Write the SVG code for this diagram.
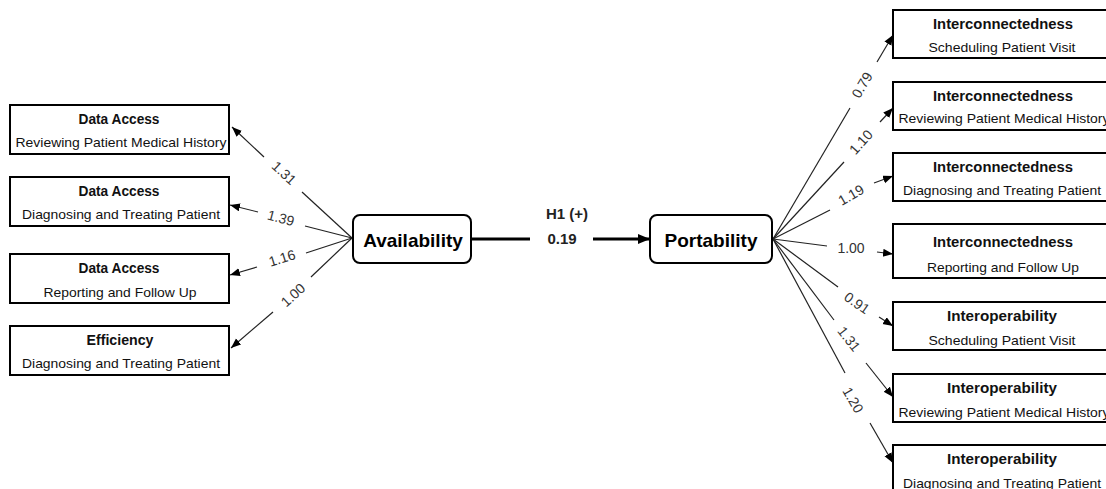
<svg xmlns="http://www.w3.org/2000/svg" width="1106" height="489" viewBox="0 0 1106 489">
<defs>
<marker id="ah" markerUnits="userSpaceOnUse" markerWidth="11" markerHeight="9" refX="10" refY="4" orient="auto"><path d="M0,0 L10,4 L0,8 z" fill="#000"/></marker>
<marker id="ahb" markerUnits="userSpaceOnUse" markerWidth="13" markerHeight="11" refX="12" refY="5" orient="auto"><path d="M0,0 L12,5 L0,10 z" fill="#000"/></marker>
<style>
.box{fill:#fff;stroke:#000;stroke-width:2}
.rbox{fill:#fff;stroke:#000;stroke-width:2}
.t{font-family:"Liberation Sans",Arial,sans-serif;font-weight:bold;font-size:14.5px;fill:#111;text-anchor:middle}
.s{font-family:"Liberation Sans",Arial,sans-serif;font-size:13.5px;fill:#111;text-anchor:middle}
.big{font-family:"Liberation Sans",Arial,sans-serif;font-weight:bold;font-size:19px;fill:#000;text-anchor:middle}
.hl{font-family:"Liberation Sans",Arial,sans-serif;font-weight:bold;font-size:15px;fill:#222;text-anchor:middle}
.n{font-family:"Liberation Sans",Arial,sans-serif;font-size:14px;fill:#333;text-anchor:middle}
.ln{stroke:#222;stroke-width:1.2;fill:none}
.la{stroke:#222;stroke-width:1.2;fill:none;marker-end:url(#ah)}
</style>
</defs>
<rect width="1106" height="489" fill="#fff"/>

<g id="connectors">
  <line class="ln" x1="352" y1="238" x2="302" y2="192"/>
  <line class="la" x1="264" y1="157" x2="232" y2="127"/>
  <line class="ln" x1="352" y1="238" x2="305" y2="226"/>
  <line class="la" x1="258" y1="212" x2="230" y2="205"/>
  <line class="ln" x1="352" y1="238" x2="306" y2="253"/>
  <line class="la" x1="257" y1="267" x2="230" y2="275"/>
  <line class="ln" x1="352" y1="238" x2="311" y2="277"/>
  <line class="la" x1="273" y1="312" x2="231" y2="348"/>
  <line x1="471" y1="239" x2="530" y2="239" stroke="#000" stroke-width="3"/>
  <line x1="593" y1="239" x2="650" y2="239" stroke="#000" stroke-width="3" marker-end="url(#ahb)"/>
  <line class="ln" x1="773" y1="239" x2="850" y2="108"/>
  <line class="la" x1="877" y1="62" x2="893" y2="35"/>
  <line class="ln" x1="773" y1="239" x2="844" y2="162"/>
  <line class="la" x1="880" y1="122" x2="893" y2="108"/>
  <line class="ln" x1="773" y1="239" x2="830" y2="210"/>
  <line class="la" x1="874" y1="183" x2="893" y2="176"/>
  <line class="ln" x1="773" y1="239" x2="827" y2="246"/>
  <line class="la" x1="877" y1="252" x2="893" y2="254"/>
  <line class="ln" x1="773" y1="239" x2="838" y2="287"/>
  <line class="la" x1="879" y1="317" x2="893" y2="326"/>
  <line class="ln" x1="773" y1="239" x2="834" y2="320"/>
  <line class="la" x1="866" y1="363" x2="893" y2="397"/>
  <line class="ln" x1="773" y1="239" x2="845" y2="373"/>
  <line class="la" x1="870" y1="423" x2="893" y2="463"/>
  <text class="n" transform="translate(284,173) rotate(43)" dy="0.35em">1.31</text>
  <text class="n" transform="translate(281,218) rotate(15)" dy="0.35em">1.39</text>
  <text class="n" transform="translate(282,258) rotate(-17)" dy="0.35em">1.16</text>
  <text class="n" transform="translate(293,295) rotate(-42)" dy="0.35em">1.00</text>
  <text class="hl" x="567" y="219">H1 (+)</text>
  <text class="hl" x="562" y="244" font-size="16">0.19</text>
  <text class="n" transform="translate(862,85) rotate(-60)" dy="0.35em">0.79</text>
  <text class="n" transform="translate(861,142) rotate(-48)" dy="0.35em">1.10</text>
  <text class="n" transform="translate(851,195) rotate(-30)" dy="0.35em">1.19</text>
  <text class="n" transform="translate(851,248)" dy="0.35em">1.00</text>
  <text class="n" transform="translate(857,303) rotate(35)" dy="0.35em">0.91</text>
  <text class="n" transform="translate(849,339) rotate(52)" dy="0.35em">1.31</text>
  <text class="n" transform="translate(853,400) rotate(60)" dy="0.35em">1.20</text>
</g>

<g id="availability">
  <rect class="rbox" x="353" y="215" width="118" height="48" rx="7"/>
  <text class="big" x="413" y="247">Availability</text>
</g>
<g id="portability">
  <rect class="rbox" x="650" y="215" width="122" height="48" rx="7"/>
  <text class="big" x="711" y="247">Portability</text>
</g>

<g id="da-reviewing">
  <rect class="box" x="10" y="105" width="219" height="49"/>
  <text class="t" x="119" y="124" textLength="81" lengthAdjust="spacingAndGlyphs">Data Access</text>
  <text class="s" x="121" y="147" textLength="211" lengthAdjust="spacingAndGlyphs">Reviewing Patient Medical History</text>
</g>
<g id="da-diagnosing">
  <rect class="box" x="10" y="177" width="219" height="49"/>
  <text class="t" x="119" y="196" textLength="81" lengthAdjust="spacingAndGlyphs">Data Access</text>
  <text class="s" x="121" y="219" textLength="198" lengthAdjust="spacingAndGlyphs">Diagnosing and Treating Patient</text>
</g>
<g id="da-reporting">
  <rect class="box" x="10" y="254" width="219" height="49"/>
  <text class="t" x="119" y="273" textLength="81" lengthAdjust="spacingAndGlyphs">Data Access</text>
  <text class="s" x="120" y="297" textLength="153" lengthAdjust="spacingAndGlyphs">Reporting and Follow Up</text>
</g>
<g id="ef-diagnosing">
  <rect class="box" x="10" y="326" width="219" height="49"/>
  <text class="t" x="120" y="345" textLength="67" lengthAdjust="spacingAndGlyphs">Efficiency</text>
  <text class="s" x="121" y="368" textLength="198" lengthAdjust="spacingAndGlyphs">Diagnosing and Treating Patient</text>
</g>

<g id="ic-scheduling">
  <rect class="box" x="893" y="10" width="230" height="48"/>
  <text class="t" x="1003" y="29" textLength="140" lengthAdjust="spacingAndGlyphs">Interconnectedness</text>
  <text class="s" x="1002" y="52" textLength="147" lengthAdjust="spacingAndGlyphs">Scheduling Patient Visit</text>
</g>
<g id="ic-reviewing">
  <rect class="box" x="893" y="82" width="230" height="48"/>
  <text class="t" x="1003" y="101" textLength="140" lengthAdjust="spacingAndGlyphs">Interconnectedness</text>
  <text class="s" x="1004" y="123" textLength="211" lengthAdjust="spacingAndGlyphs">Reviewing Patient Medical History</text>
</g>
<g id="ic-diagnosing">
  <rect class="box" x="893" y="153" width="230" height="48"/>
  <text class="t" x="1003" y="172" textLength="140" lengthAdjust="spacingAndGlyphs">Interconnectedness</text>
  <text class="s" x="1002" y="195" textLength="198" lengthAdjust="spacingAndGlyphs">Diagnosing and Treating Patient</text>
</g>
<g id="ic-reporting">
  <rect class="box" x="893" y="224" width="230" height="54"/>
  <text class="t" x="1003" y="247" textLength="140" lengthAdjust="spacingAndGlyphs">Interconnectedness</text>
  <text class="s" x="1003" y="272" textLength="152" lengthAdjust="spacingAndGlyphs">Reporting and Follow Up</text>
</g>
<g id="io-scheduling">
  <rect class="box" x="893" y="302" width="230" height="48"/>
  <text class="t" x="1002" y="321" textLength="110" lengthAdjust="spacingAndGlyphs">Interoperability</text>
  <text class="s" x="1002" y="345" textLength="147" lengthAdjust="spacingAndGlyphs">Scheduling Patient Visit</text>
</g>
<g id="io-reviewing">
  <rect class="box" x="893" y="374" width="230" height="48"/>
  <text class="t" x="1002" y="393" textLength="110" lengthAdjust="spacingAndGlyphs">Interoperability</text>
  <text class="s" x="1004" y="417" textLength="211" lengthAdjust="spacingAndGlyphs">Reviewing Patient Medical History</text>
</g>
<g id="io-diagnosing">
  <rect class="box" x="893" y="445" width="230" height="60"/>
  <text class="t" x="1002" y="464" textLength="110" lengthAdjust="spacingAndGlyphs">Interoperability</text>
  <text class="s" x="1002" y="488" textLength="198" lengthAdjust="spacingAndGlyphs">Diagnosing and Treating Patient</text>
</g>
</svg>
